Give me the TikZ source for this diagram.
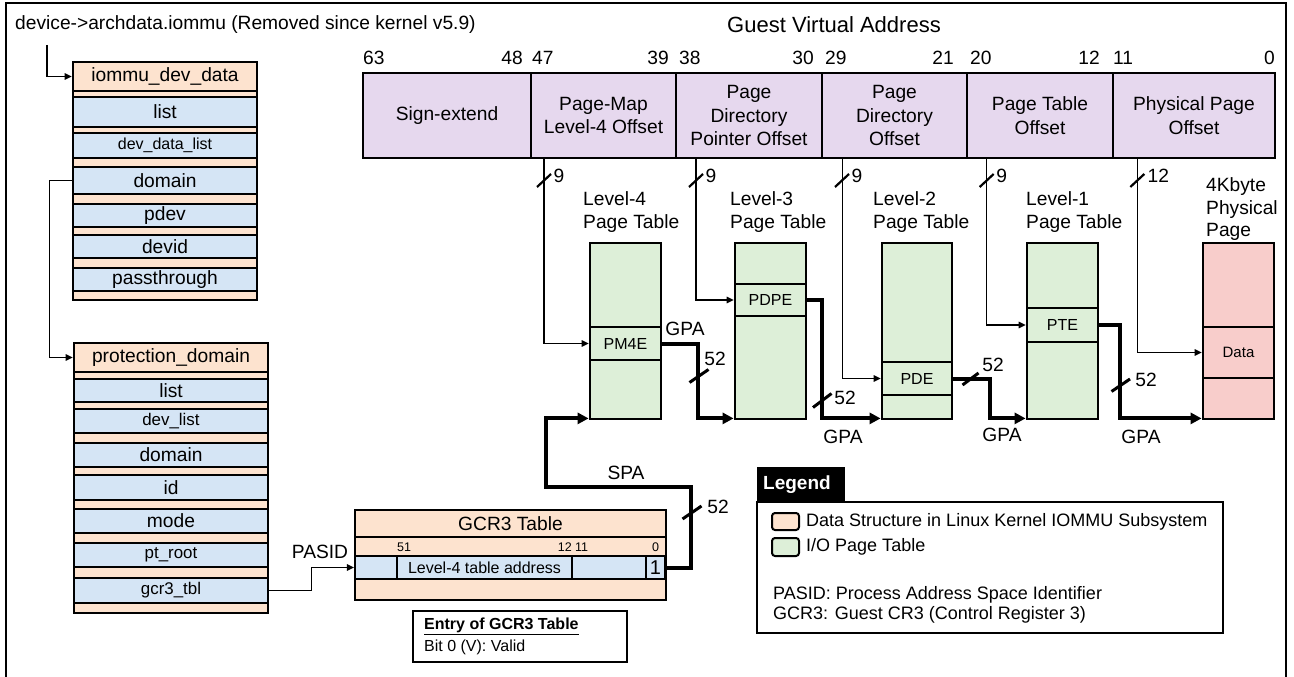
\documentclass[tikz,border=0pt]{standalone}
\usepackage{fontspec}
\setmainfont{Liberation Sans}
\usetikzlibrary{arrows.meta,calc}
\definecolor{peach}{HTML}{FDE3CF}
\definecolor{rowblue}{HTML}{D5E5F5}
\definecolor{lavender}{HTML}{E6D8EE}
\definecolor{ptgreen}{HTML}{DDEFD8}
\definecolor{pagepink}{HTML}{F8CDCB}
% box from corner (x1,y1) to corner (x2,y2): options, name, x1, y1, x2, y2, text
\newcommand\rectnode[7]{\node[#1, inner sep=0pt, minimum width={(#5)-(#3)}, minimum height={(#6)-(#4)}] (#2) at ({((#3)+(#5))/2},{((#4)+(#6))/2}) {#7};}
\begin{document}
\begin{tikzpicture}[x=1pt,y=-1pt,
  fs/.style={font=\fontsize{19.2}{23.5}\selectfont},
  fsm/.style={font=\fontsize{16.9}{20}\selectfont},
  fss/.style={font=\fontsize{16}{19.5}\selectfont},
  fsx/.style={font=\fontsize{12.5}{14}\selectfont},
  txt/.style={inner sep=0pt, fs},
  bx/.style={draw, line width=2.8pt},
  field/.style={bx, fill=lavender, fs, align=center},
  shell/.style={bx, fill=peach, line width=2.6pt},
  srow/.style={draw, fill=rowblue, line width=2.2pt},
  tbl/.style={bx, fill=ptgreen},
  tentry/.style={draw, fill=ptgreen, line width=2.6pt, fss},
  pg/.style={bx, fill=pagepink},
  pentry/.style={draw, fill=pagepink, line width=2.6pt},
  idx/.style={line width=1.5pt, -{Triangle[length=7pt,width=6.5pt]}},
  gpa/.style={line width=4pt, -{Triangle[length=11pt,width=11pt]}},
  slash/.style={line width=2.2pt},
  tslash/.style={line width=3pt},
  swatch/.style={draw, line width=2pt, rounded corners=3pt},
]
\useasboundingbox (0,0) rectangle (1294,677);

% outer frame
\draw[line width=1.5pt] (6,677) -- (6,3) -- (1286,3) -- (1286,677);

% headings
\node[txt, anchor=west] (devptr) at (15,25) {device->archdata.iommu (Removed since kernel v5.9)};
\node[inner sep=0pt, font=\fontsize{22}{26}\selectfont] (gva) at (834,25) {Guest Virtual Address};

% virtual address fields
\rectnode{field}{sx}{363}{73}{531}{158}{Sign-extend}
\rectnode{field}{pml4}{531}{73}{676}{158}{Page-Map\\Level-4 Offset}
\rectnode{field}{pdp}{676}{73}{822}{158}{Page\\Directory\\Pointer Offset}
\rectnode{field}{pd}{822}{73}{967}{158}{Page\\Directory\\Offset}
\rectnode{field}{pt}{967}{73}{1113}{158}{Page Table\\Offset}
\rectnode{field}{po}{1113}{73}{1275}{158}{Physical Page\\Offset}

% bit numbers
\node[txt, anchor=west] (b63) at (363,58) {63};
\node[txt, anchor=east] (b48) at (523,58) {48};
\node[txt, anchor=west] (b47) at (532,58) {47};
\node[txt, anchor=east] (b39) at (669,58) {39};
\node[txt, anchor=west] (b38) at (679,58) {38};
\node[txt, anchor=east] (b30) at (814,58) {30};
\node[txt, anchor=west] (b29) at (825,58) {29};
\node[txt, anchor=east] (b21) at (954,58) {21};
\node[txt, anchor=west] (b20) at (970,58) {20};
\node[txt, anchor=east] (b12) at (1100,58) {12};
\node[txt, anchor=west] (b11) at (1113,58) {11};
\node[txt, anchor=east] (b0) at (1275,58) {0};

% iommu_dev_data
\rectnode{shell}{dev}{73}{62}{257}{300}{}
\rectnode{shell, fs}{devhead}{73}{62}{257}{91}{iommu\_dev\_data}
\rectnode{srow, fs}{dlist}{73}{97}{257}{127}{list}
\rectnode{srow, fss}{ddlist}{73}{133}{257}{158}{dev\_data\_list}
\rectnode{srow, fs}{ddom}{73}{167}{257}{194}{domain}
\rectnode{srow, fs}{dpdev}{73}{204}{257}{227}{pdev}
\rectnode{srow, fs}{ddevid}{73}{235}{257}{258}{devid}
\rectnode{srow, fs}{dpass}{73}{268}{257}{291}{passthrough}

% protection_domain
\rectnode{shell}{pdm}{74}{343}{268}{613}{}
\rectnode{shell, fs}{pdhead}{74}{343}{268}{372}{protection\_domain}
\rectnode{srow, fs}{plist}{74}{379}{268}{402}{list}
\rectnode{srow, fsm}{pdevl}{74}{409}{268}{433}{dev\_list}
\rectnode{srow, fs}{pdomain}{74}{443}{268}{467}{domain}
\rectnode{srow, fs}{pid}{74}{475}{268}{500}{id}
\rectnode{srow, fs}{pmode}{74}{509}{268}{533}{mode}
\rectnode{srow, fsm}{proot}{74}{543}{268}{567}{pt\_root}
\rectnode{srow, fsm}{pgcr}{74}{578}{268}{603}{gcr3\_tbl}

% GCR3 table
\rectnode{shell}{gcr}{355}{510}{666}{600}{}
\rectnode{shell, fs}{gcrhead}{355}{510}{666}{537}{GCR3 Table}
\rectnode{srow}{gcrrow}{355}{556}{666}{579}{}
\rectnode{srow, fss}{gaddr}{397}{556}{572}{579}{Level-4 table address}
\rectnode{srow, font=\fontsize{20}{22}\selectfont}{gone}{646}{556}{665}{579}{1}
\node[inner sep=0pt, fsx] (g51) at (404,547) {51};
\node[inner sep=0pt, fsx, anchor=east] (g12) at (572,547) {12};
\node[inner sep=0pt, fsx, anchor=west] (g11) at (575,547) {11};
\node[inner sep=0pt, fsx] (g0) at (655.5,547) {0};

% GCR3 entry note
\rectnode{draw, line width=2pt}{entry}{413}{611}{627}{662}{}
\node[inner sep=0pt, fss, anchor=west] (entryt) at (424,626) {\underline{\textbf{Entry of GCR3 Table}}};
\node[inner sep=0pt, fss, anchor=west] (entryb) at (424,647) {Bit 0 (V): Valid};

% page tables
\node[txt, align=left, anchor=west] (l4lab) at (583,212) {Level-4\\Page Table};
\node[txt, align=left, anchor=west] (l3lab) at (730,212) {Level-3\\Page Table};
\node[txt, align=left, anchor=west] (l2lab) at (873,212) {Level-2\\Page Table};
\node[txt, align=left, anchor=west] (l1lab) at (1026,212) {Level-1\\Page Table};
\node[inner sep=0pt, font=\fontsize{19.2}{22.5}\selectfont, align=left, anchor=west] (pglab) at (1206,209.5) {4Kbyte\\Physical\\Page};

\rectnode{tbl}{l4}{590}{243}{661}{419}{}
\rectnode{tentry}{pm4e}{590}{327}{661}{360}{PM4E}
\rectnode{tbl}{l3}{735}{243}{806}{419}{}
\rectnode{tentry}{pdpe}{735}{284}{806}{316}{PDPE}
\rectnode{tbl}{l2}{882}{243}{952}{419}{}
\rectnode{tentry}{pde}{882}{362}{952}{395}{PDE}
\rectnode{tbl}{l1}{1027}{243}{1098}{419}{}
\rectnode{tentry}{pte}{1027}{308}{1098}{342}{PTE}
\rectnode{pg}{page}{1203}{243}{1274}{419}{}
\rectnode{pentry, font=\fontsize{15}{18}\selectfont}{data}{1203}{327}{1274}{378}{Data}

% index connectors from the virtual address
\draw[idx] ([xshift=14.4pt]pml4.south west) |- (pm4e.west);
\draw[idx] ([xshift=21.4pt]pdp.south west) |- (pdpe.west);
\draw[idx] ([xshift=21.7pt]pd.south west) |- (pde.west);
\draw[idx] ([xshift=21.1pt]pt.south west) |- (pte.west);
\draw[idx] ([xshift=25.7pt]po.south west) |- (data.west);
\foreach \sx/\lab/\dx in {544/9/15, 696/9/15, 842/9/15, 986.7/9/15, 1137.3/12/21}{
  \draw[slash] (\sx-7,187) -- (\sx+7,174);
  \node[txt] at (\sx+\dx,176) {\lab};
}

% struct pointers
\coordinate (devtap) at (47,45);
\draw[idx] (devtap) |- (devhead.west);
\draw[idx] (ddom.west) -- ++(-22.5,0) |- (pdhead.west);
\draw[idx] (pgcr.east) -- ++(42.6,0) |- (gcrrow.west);
\node[txt] (pasid) at (320,552) {PASID};

% SPA from the GCR3 entry to the level-4 table
\coordinate (spabend) at (545.5,487.3);
\draw[gpa] (gone.east) -- ++(25,0) |- (spabend) |- ([yshift=2pt]l4.south west);
\node[txt] (spa) at (626,473) {SPA};
\draw[tslash] (682.5,519) -- (701.5,506);
\node[txt] (s52a) at (718,507) {52};

% GPA chain between the tables
\draw[gpa] (pm4e.east) -- ++(36,0) |- ([yshift=2pt]l3.south west);
\draw[gpa] (pdpe.east) -- ++(15,0) |- ([yshift=2pt]l2.south west);
\draw[gpa] (pde.east) -- ++(37,0) |- ([yshift=2pt]l1.south west);
\draw[gpa] (pte.east) -- ++(21,0) |- ([yshift=2pt]page.south west);
\node[txt] (gpa1) at (685,329) {GPA};
\node[txt] (gpa2) at (843,437) {GPA};
\node[txt] (gpa3) at (1002,435) {GPA};
\node[txt] (gpa4) at (1141,437) {GPA};
\draw[tslash] (689.5,382.5) -- (708.5,369.5);
\node[txt] (n52a) at (715,359) {52};
\draw[tslash] (813,407.5) -- (831.5,393.5);
\node[txt] (n52b) at (845,398) {52};
\draw[tslash] (962.5,385) -- (978.5,373);
\node[txt] (n52c) at (993,365) {52};
\draw[tslash] (1111.5,391.5) -- (1130,379);
\node[txt] (n52d) at (1146,380) {52};

% legend
\rectnode{fill=black}{legtab}{757}{467}{845}{502}{}
\node[inner sep=0pt, anchor=west, text=white, font=\bfseries\fontsize{19}{22}\selectfont] (legtxt) at (763,485) {Legend};
\rectnode{draw, line width=2pt}{legbox}{757}{502}{1223}{633}{}
\rectnode{swatch, fill=peach}{sw1}{772}{513}{799}{530}{}
\rectnode{swatch, fill=ptgreen}{sw2}{772}{538}{799}{556}{}
\node[inner sep=0pt, anchor=west, font=\fontsize{18}{21}\selectfont] (lt1) at (806,521.5) {Data Structure in Linux Kernel IOMMU Subsystem};
\node[inner sep=0pt, anchor=west, font=\fontsize{18}{21}\selectfont] (lt2) at (806,547) {I/O Page Table};
\node[inner sep=0pt, anchor=west, font=\fontsize{18}{21}\selectfont] (lt3) at (773,595) {PASID: Process Address Space Identifier};
\node[inner sep=0pt, anchor=west, font=\fontsize{18}{21}\selectfont] (lt4) at (773,615) {GCR3: Guest CR3 (Control Register 3)};
\end{tikzpicture}
\end{document}
